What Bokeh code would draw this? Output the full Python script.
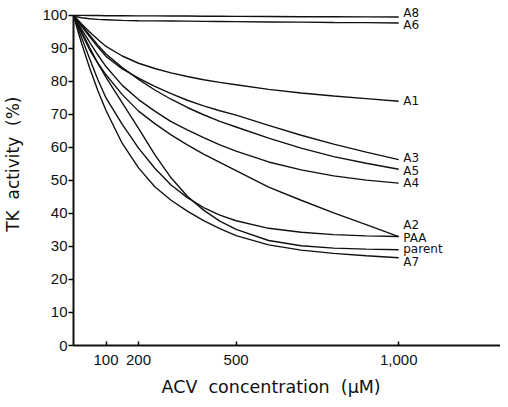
from bokeh.plotting import figure
from bokeh.models import Range1d, FixedTicker, Title, ColumnDataSource, LabelSet
from bokeh.embed import file_html
from bokeh.resources import INLINE
from bokeh.core.properties import value

# ACV concentration (uM) at which each curve was read
conc = [0, 10, 25, 50, 75, 100, 150, 200, 250, 300, 350, 400, 450, 500, 600, 700, 800, 900, 1000]

a8 = [100, 100, 100, 99.95, 99.95, 99.9, 99.9, 99.85, 99.85, 99.8, 99.8, 99.75, 99.75, 99.7, 99.65, 99.6, 99.6, 99.55, 99.5]
a6 = [100, 99.6, 99.3, 99.0, 98.8, 98.7, 98.5, 98.4, 98.35, 98.3, 98.25, 98.2, 98.15, 98.1, 98.0, 97.95, 97.85, 97.8, 97.7]
a1 = [100, 99.0, 97.4, 95.0, 92.7, 90.6, 87.7, 85.5, 83.9, 82.6, 81.5, 80.5, 79.7, 79.0, 77.6, 76.5, 75.6, 74.8, 74.0]
a3 = [100, 98.7, 96.7, 93.5, 90.4, 87.6, 83.8, 81.0, 78.5, 76.3, 74.3, 72.6, 71.1, 69.8, 66.7, 63.7, 61.0, 58.6, 56.3]
a5 = [100, 98.8, 97.0, 94.0, 91.0, 88.3, 84.2, 80.6, 77.4, 74.6, 72.1, 69.9, 67.9, 66.2, 62.8, 59.8, 57.2, 55.2, 53.4]
a4 = [100, 98.3, 95.8, 91.8, 88.0, 84.5, 78.8, 74.5, 71.0, 67.8, 65.3, 63.0, 60.8, 58.9, 55.6, 53.2, 51.4, 50.1, 49.2]
a2 = [100, 97.8, 94.5, 89.5, 85.5, 82.0, 76.0, 71.0, 67.2, 63.8, 60.8, 58.0, 55.5, 53.0, 48.0, 44.0, 40.2, 36.6, 33.0]
paa = [100, 97.2, 93.2, 86.8, 80.5, 75.0, 67.0, 59.8, 53.7, 48.6, 44.8, 41.8, 39.5, 37.8, 35.5, 34.3, 33.6, 33.2, 33.0]
parent = [100, 98.0, 95.0, 90.2, 85.5, 81.2, 73.5, 65.8, 57.8, 50.8, 45.2, 41.0, 37.7, 35.2, 31.8, 30.2, 29.5, 29.2, 29.0]
a7 = [100, 96.5, 91.5, 84.0, 77.2, 71.2, 61.2, 53.8, 48.1, 44.0, 40.7, 37.8, 35.4, 33.3, 30.5, 28.9, 27.9, 27.2, 26.6]

curve_names = ["A8", "A6", "A1", "A3", "A5", "A4", "A2", "PAA", "parent", "A7"]
curve_values = [a8, a6, a1, a3, a5, a4, a2, paa, parent, a7]

# label placement (text positions, kept apart from the data)
label_y = [100.8, 97.0, 74.2, 56.8, 53.0, 49.1, 36.4, 32.6, 29.1, 25.2]
label_x = 1014

x_ticks = [100, 200, 500, 1000]
x_tick_text = {1000: "1,000"}
y_ticks = [0, 10, 20, 30, 40, 50, 60, 70, 80, 90, 100]

p = figure(width=500, height=406, title=None,
           x_range=Range1d(0, 1313), y_range=Range1d(0, 103.3),
           output_backend="svg", toolbar_location=None,
           min_border_left=64, min_border_right=0,
           min_border_top=4, min_border_bottom=61)
p.outline_line_color = None
p.xgrid.visible = False
p.ygrid.visible = False
p.background_fill_color = "white"
p.border_fill_color = "white"

for vals in curve_values:
    p.line(conc, vals, line_color="#111111", line_width=1.4)

src = ColumnDataSource(dict(x=[label_x] * len(curve_names), y=label_y, t=curve_names))
labels = LabelSet(x="x", y="y", text="t", source=src, text_font=value("DejaVu Sans"),
                  text_font_size="12px", text_baseline="middle", text_align="left",
                  text_color="#111111")
p.add_layout(labels)

tick_font = "Liberation Sans"

xa = p.xaxis[0]
xa.ticker = FixedTicker(ticks=x_ticks)
xa.major_label_overrides = x_tick_text
xa.bounds = (0, 1313)
xa.axis_line_width = 2
xa.axis_line_color = "#111111"
xa.major_tick_in = 4
xa.major_tick_out = 0
xa.major_tick_line_width = 1.5
xa.minor_tick_line_color = None
xa.major_label_standoff = 9
xa.major_label_text_font = tick_font
xa.major_label_text_font_size = "15px"
xa.major_label_text_color = "#111111"

ya = p.yaxis[0]
ya.ticker = FixedTicker(ticks=y_ticks)
ya.bounds = (0, 100)
ya.axis_line_width = 2
ya.axis_line_color = "#111111"
ya.major_tick_in = 0
ya.major_tick_out = 5
ya.major_tick_line_width = 1.5
ya.minor_tick_line_color = None
ya.major_label_standoff = 1
ya.major_label_text_font = tick_font
ya.major_label_text_font_size = "15px"
ya.major_label_text_color = "#111111"
ya.axis_label = "\u00a0\u00a0\u00a0\u00a0TK\u00a0\u00a0activity\u00a0\u00a0(%)"
ya.axis_label_text_font = "DejaVu Sans"
ya.axis_label_text_font_style = "normal"
ya.axis_label_text_font_size = "17px"
ya.axis_label_standoff = 16
ya.axis_label_text_color = "#111111"

xt = Title(text="ACV\u00a0\u00a0concentration\u00a0\u00a0(\u03bcM)", align="left", offset=88,
           text_font="DejaVu Sans", text_font_style="normal", text_font_size="17.5px",
           text_color="#111111", standoff=15)
p.add_layout(xt, "below")

open("out.html", "w").write(file_html(p, INLINE))
